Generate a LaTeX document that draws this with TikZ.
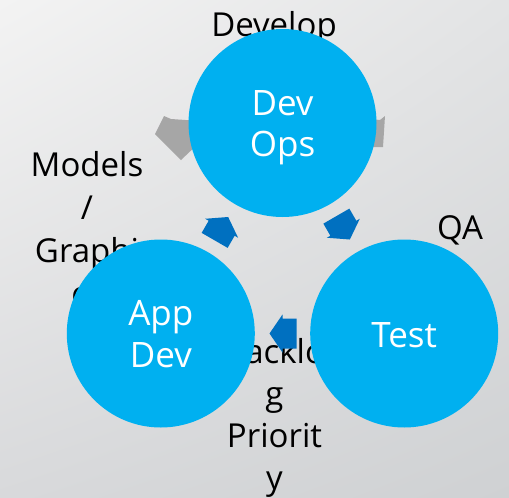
\documentclass[tikz,border=0pt]{standalone}
\usepackage{fontspec}
\setmainfont{Open Sans}
\usetikzlibrary{calc,shadings}

\definecolor{bgA}{HTML}{F3F3F3}
\definecolor{bgB}{HTML}{E3E4E5}
\definecolor{bgC}{HTML}{D8D9DB}
\definecolor{bgD}{HTML}{CFD1D3}
\definecolor{cycleblue}{HTML}{00B0F0}
\definecolor{arrowblue}{HTML}{0070C0}
\definecolor{arrowgray}{HTML}{A6A6A6}

\tikzset{
  bubble/.style={circle, fill=cycleblue, minimum size=188pt, inner sep=0pt},
  outerlabel/.style={font=\fontsize{33}{40}\selectfont, text=black, anchor=base, inner sep=0pt},
  innerlabel/.style={font=\fontsize{35}{42}\selectfont, text=white, anchor=base, inner sep=0pt},
  ghostarrow/.style={fill=arrowgray},
  blockarrow/.pic={
    \fill[arrowblue] (13,0) -- (0,19) -- (0,15) -- (-14,15) -- (-14,-15)
      -- (0,-15) -- (0,-19) -- cycle;
  },
}

\begin{document}
\begin{tikzpicture}[x=1pt,y=-1pt]
  \useasboundingbox (0,0) rectangle (509,498);
  % backdrop
  \shade[upper left=bgA, upper right=bgB, lower left=bgC, lower right=bgD]
    (0,0) rectangle (509,498);

  % grey arrows tucked behind the top circle
  \fill[ghostarrow] (164,116) -- (171,119) -- (200,121) -- (200,142)
    -- (181,160) -- (155,134) -- cycle;
  \fill[ghostarrow] (370,119) -- (380,120) -- (385,116) -- (383,147)
    -- (370,147) -- cycle;

  % outer captions
  \node[outerlabel] (develop) at (274,36) {Develop};
  \node[outerlabel] (models1) at (87,176) {Models};
  \node[outerlabel] (models2) at (87,219) {/};
  \node[outerlabel] (models3) at (87,262) {Graphi};
  \node[outerlabel] (models4) at (87,305) {cs};
  \node[outerlabel] (qa) at (460,239) {QA};
  \node[outerlabel] (backlog1) at (274.5,363) {Backlo};
  \node[outerlabel] (backlog2) at (274.5,405) {g};
  \node[outerlabel] (backlog3) at (274.5,447) {Priorit};
  \node[outerlabel] (backlog4) at (274.5,489) {y};

  % the three stages
  \node[bubble] (devops) at (282.5,123) {};
  \node[bubble] (appdev) at (160.8,333.5) {};
  \node[bubble] (test) at (404.2,333.5) {};

  \node[innerlabel] (devops1) at ($(devops)+(0,-8)$) {Dev};
  \node[innerlabel] (devops2) at ($(devops)+(0,33)$) {Ops};
  \node[innerlabel] (appdev1) at ($(appdev)+(0,-8.5)$) {App};
  \node[innerlabel] (appdev2) at ($(appdev)+(0,33.5)$) {Dev};
  \node[innerlabel] (test1) at ($(test)+(0,13.5)$) {Test};

  % cycle arrows between the stages
  \pic[rotate=60] at ($(appdev)!0.5!(devops)$) {blockarrow};
  \pic[rotate=-60] at ($(devops)!0.5!(test)$) {blockarrow};
  \pic[rotate=180] at ($(test)!0.5!(appdev)$) {blockarrow};
\end{tikzpicture}
\end{document}
